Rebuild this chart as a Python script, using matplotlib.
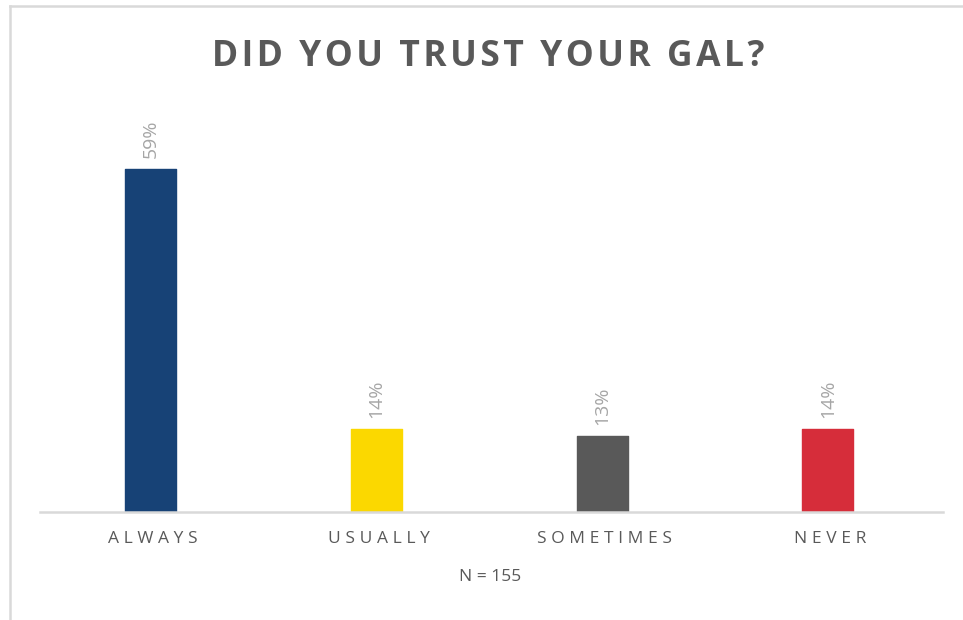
import matplotlib
matplotlib.use("Agg")
import matplotlib.pyplot as plt
from matplotlib.lines import Line2D

categories = ["ALWAYS", "USUALLY", "SOMETIMES", "NEVER"]
shares = [59.4, 14.4, 13.2, 14.4]
bar_colors = ["#174276", "#FBD800", "#595959", "#D62D3A"]
title = "DID YOU TRUST YOUR GAL?"
note = "N = 155"

FONT = ["Open Sans", "DejaVu Sans"]


def spaced(s, sep="\u2009"):
    # fake letter-spacing like the Excel style
    return sep.join(s)


fig = plt.figure(figsize=(9.63, 6.2), dpi=100)
ax = fig.add_axes([40 / 963, 1 - 512 / 620, 903 / 963, 404.6 / 620])

x = range(len(categories))
bars = ax.bar([i - 0.01 for i in x], shares, width=0.225, color=bar_colors,
              edgecolor=bar_colors, linewidth=1.0, joinstyle="round", zorder=2)

for b, v in zip(bars, shares):
    ax.annotate(f"{v:.0f}%", (b.get_x() + b.get_width() / 2, b.get_height()),
                xytext=(0, 8), textcoords="offset points", rotation=90,
                ha="center", va="bottom", fontsize=14, color="#A6A6A6",
                family=FONT)

ax.set_xlim(-0.5, len(categories) - 0.5)
ax.set_ylim(0, 70)
ax.set_xticks(list(x))
ax.set_xticklabels([spaced(c, "\u2009\u200a") for c in categories], fontsize=12.5,
                   color="#595959", family=FONT)
ax.tick_params(axis="x", length=0, pad=14)
ax.set_yticks([])
for side in ["top", "right", "left"]:
    ax.spines[side].set_visible(False)
ax.spines["bottom"].set_color("#D9D9D9")
ax.spines["bottom"].set_linewidth(1.8)

fig.text(488 / 963, 1 - 57 / 620, spaced(title, "\u200a"), ha="center", va="center",
         fontsize=25.5, fontweight="bold", color="#595959", family=FONT)
fig.text(490 / 963, 1 - 577 / 620, note, ha="center", va="center",
         fontsize=12.5, color="#595959", family=FONT)

# light frame on the left and top edges
fig.add_artist(Line2D([10 / 963, 10 / 963], [0, 1 - 6 / 620], color="#D9D9D9", lw=1.8))
fig.add_artist(Line2D([10 / 963, 1], [1 - 6 / 620, 1 - 6 / 620], color="#D9D9D9", lw=1.8))

fig.savefig("out.png", dpi=100)
